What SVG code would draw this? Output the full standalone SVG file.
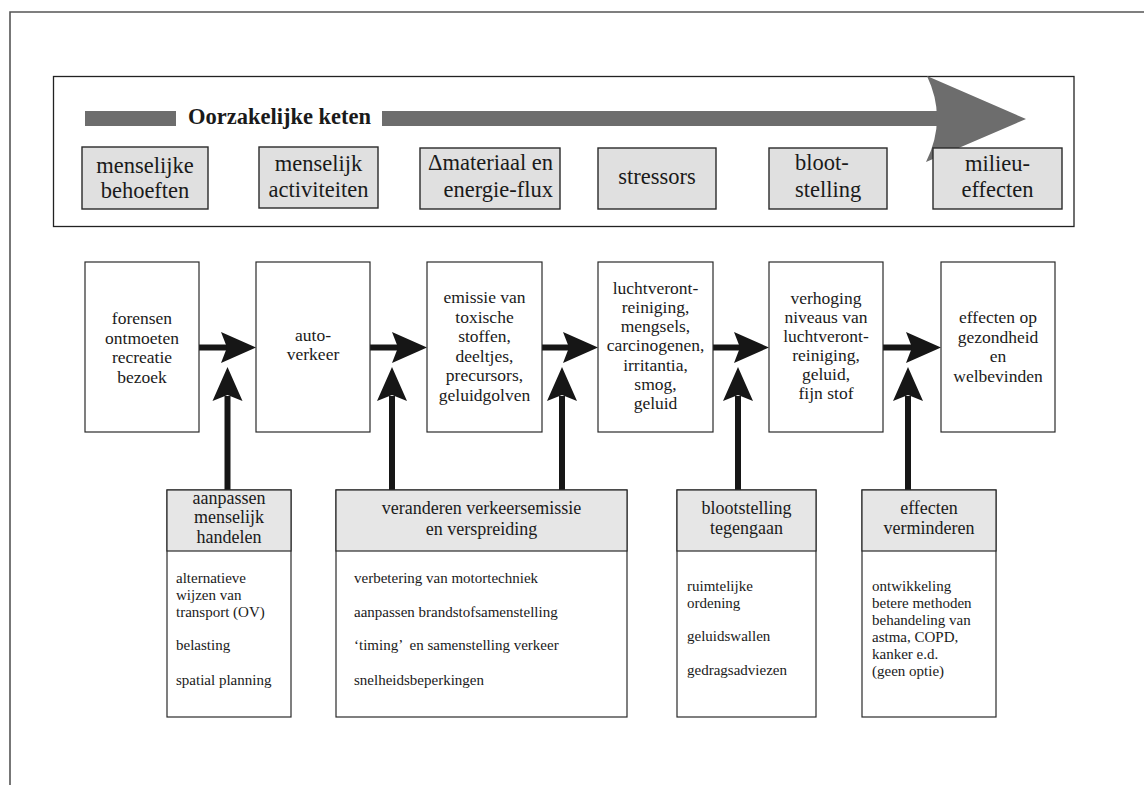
<svg xmlns="http://www.w3.org/2000/svg" width="1144" height="785" viewBox="0 0 1144 785">
<style>
text{font-family:"Liberation Serif","Times New Roman",serif;fill:#1a1a1a}
.t22{font-size:22.5px;text-anchor:middle}
.t17{font-size:17.5px;text-anchor:middle}
.h18{font-size:18px;text-anchor:middle}
.b15{font-size:15px}
.gbox{fill:#e0e0e0;stroke:#2a2a2a;stroke-width:1.4}
.wbox{fill:#fff;stroke:#2a2a2a;stroke-width:1.2}
.hbox{fill:#e6e6e6;stroke:#2a2a2a;stroke-width:1.2}
.conn{stroke:#161616;stroke-width:6;fill:none}
.head{fill:#161616}
</style>
<rect width="1144" height="785" fill="#fff"/>
<path d="M10,785 V12 H1144" fill="none" stroke="#555" stroke-width="1.6"/>
<g id="chain-frame">
<rect x="53.5" y="76.5" width="1020.5" height="150" fill="#fff" stroke="#222" stroke-width="1.3"/>
<rect x="85" y="111" width="91" height="15" fill="#6d6d6d"/>
<rect x="382" y="111" width="560" height="15" fill="#6d6d6d"/>
<path d="M927,76 Q947.5,119 926,162 L1026,119 Z" fill="#6d6d6d"/>
<text x="188" y="124" style="font-size:22.5px;font-weight:bold">Oorzakelijke keten</text>
</g>
<g id="top-1"><rect class="gbox" x="82" y="147" width="126" height="62"/><text class="t22" x="145" y="173">menselijke</text><text class="t22" x="145" y="198">behoeften</text></g>
<g id="top-2"><rect class="gbox" x="259" y="147" width="119" height="61"/><text class="t22" x="318.5" y="171">menselijk</text><text class="t22" x="318.5" y="197">activiteiten</text></g>
<g id="top-3"><rect class="gbox" x="420" y="148" width="140" height="61"/><text x="553" y="170" style="font-size:22.5px;text-anchor:end">Δmateriaal en</text><text x="553" y="197" style="font-size:22.5px;text-anchor:end">energie-flux</text></g>
<g id="top-4"><rect class="gbox" x="598" y="148" width="118" height="61"/><text class="t22" x="657" y="184">stressors</text></g>
<g id="top-5"><rect class="gbox" x="769" y="148" width="118" height="61"/><text x="795" y="170" style="font-size:22.5px">bloot-</text><text x="795" y="197" style="font-size:22.5px">stelling</text></g>
<g id="top-6"><rect class="gbox" x="933" y="148" width="129" height="61"/><text class="t22" x="997.5" y="171">milieu-</text><text class="t22" x="997.5" y="197">effecten</text></g>

<g id="connectors">
<path class="conn" d="M199,347.5 H227 M370,347.5 H398 M542,347.5 H569 M713,347.5 H740 M883,347.5 H912"/>
<path class="head" d="M256,347.5 L221,332 L227,347.5 L221,363 Z"/>
<path class="head" d="M427,347.5 L392,332 L398,347.5 L392,363 Z"/>
<path class="head" d="M598,347.5 L563,332 L569,347.5 L563,363 Z"/>
<path class="head" d="M769,347.5 L734,332 L740,347.5 L734,363 Z"/>
<path class="head" d="M941,347.5 L906,332 L912,347.5 L906,363 Z"/>
<path class="conn" d="M227.5,490 V396 M392,490 V396 M562,490 V396 M738,490 V396 M908,490 V396"/>
<path class="head" d="M227.5,367 L212.5,401 L227.5,395 L242.5,401 Z"/>
<path class="head" d="M392,367 L377,401 L392,395 L407,401 Z"/>
<path class="head" d="M562,367 L547,401 L562,395 L577,401 Z"/>
<path class="head" d="M738,367 L723,401 L738,395 L753,401 Z"/>
<path class="head" d="M908,367 L893,401 L908,395 L923,401 Z"/>
</g>

<g id="mid-1"><rect class="wbox" x="85" y="262" width="114" height="170"/>
<text class="t17" x="142" y="324">forensen</text><text class="t17" x="142" y="343.5">ontmoeten</text><text class="t17" x="142" y="363">recreatie</text><text class="t17" x="142" y="382.5">bezoek</text></g>
<g id="mid-2"><rect class="wbox" x="256" y="262" width="114" height="170"/>
<text class="t17" x="313" y="341">auto-</text><text class="t17" x="313" y="360">verkeer</text></g>
<g id="mid-3"><rect class="wbox" x="427" y="262" width="115" height="170"/>
<text class="t17" x="484.5" y="303">emissie van</text><text class="t17" x="484.5" y="322.5">toxische</text><text class="t17" x="484.5" y="342">stoffen,</text><text class="t17" x="484.5" y="361.5">deeltjes,</text><text class="t17" x="484.5" y="381">precursors,</text><text class="t17" x="484.5" y="400.5">geluidgolven</text></g>
<g id="mid-4"><rect class="wbox" x="598" y="262" width="115" height="170"/>
<text class="t17" x="655.5" y="294">luchtveront-</text><text class="t17" x="655.5" y="313">reiniging,</text><text class="t17" x="655.5" y="332">mengsels,</text><text class="t17" x="655.5" y="351">carcinogenen,</text><text class="t17" x="655.5" y="370.5">irritantia,</text><text class="t17" x="655.5" y="390">smog,</text><text class="t17" x="655.5" y="409">geluid</text></g>
<g id="mid-5"><rect class="wbox" x="769" y="262" width="114" height="170"/>
<text class="t17" x="826" y="304">verhoging</text><text class="t17" x="826" y="323">niveaus van</text><text class="t17" x="826" y="342">luchtveront-</text><text class="t17" x="826" y="361">reiniging,</text><text class="t17" x="826" y="380">geluid,</text><text class="t17" x="826" y="399">fijn stof</text></g>
<g id="mid-6"><rect class="wbox" x="941" y="262" width="114" height="170"/>
<text class="t17" x="998" y="323">effecten op</text><text class="t17" x="998" y="342.5">gezondheid</text><text class="t17" x="998" y="362">en</text><text class="t17" x="998" y="381.5">welbevinden</text></g>

<g id="bot-1"><rect class="wbox" x="167" y="490" width="124" height="227"/><rect class="hbox" x="167" y="490" width="124" height="61"/>
<text class="h18" x="229" y="504">aanpassen</text><text class="h18" x="229" y="523">menselijk</text><text class="h18" x="229" y="543">handelen</text>
<text class="b15" x="176" y="583">alternatieve</text><text class="b15" x="176" y="600">wijzen van</text><text class="b15" x="176" y="617">transport (OV)</text><text class="b15" x="176" y="650">belasting</text><text class="b15" x="176" y="685">spatial planning</text></g>
<g id="bot-2"><rect class="wbox" x="336" y="490" width="291" height="227"/><rect class="hbox" x="336" y="490" width="291" height="61"/>
<text class="h18" x="481.5" y="514">veranderen verkeersemissie</text><text class="h18" x="481.5" y="535">en verspreiding</text>
<text class="b15" x="354" y="583">verbetering van motortechniek</text><text class="b15" x="354" y="617">aanpassen brandstofsamenstelling</text><text class="b15" x="354" y="650">‘timing’ &#160;en samenstelling verkeer</text><text class="b15" x="354" y="685">snelheidsbeperkingen</text></g>
<g id="bot-3"><rect class="wbox" x="677" y="490" width="139" height="227"/><rect class="hbox" x="677" y="490" width="139" height="61"/>
<text class="h18" x="746.5" y="514">blootstelling</text><text class="h18" x="746.5" y="534">tegengaan</text>
<text class="b15" x="687" y="591">ruimtelijke</text><text class="b15" x="687" y="608">ordening</text><text class="b15" x="687" y="641">geluidswallen</text><text class="b15" x="687" y="675">gedragsadviezen</text></g>
<g id="bot-4"><rect class="wbox" x="862" y="490" width="134" height="227"/><rect class="hbox" x="862" y="490" width="134" height="61"/>
<text class="h18" x="929" y="514">effecten</text><text class="h18" x="929" y="534">verminderen</text>
<text class="b15" x="872" y="591">ontwikkeling</text><text class="b15" x="872" y="608">betere methoden</text><text class="b15" x="872" y="625">behandeling van</text><text class="b15" x="872" y="642">astma, COPD,</text><text class="b15" x="872" y="659">kanker e.d.</text><text class="b15" x="872" y="676">(geen optie)</text></g>
</svg>
